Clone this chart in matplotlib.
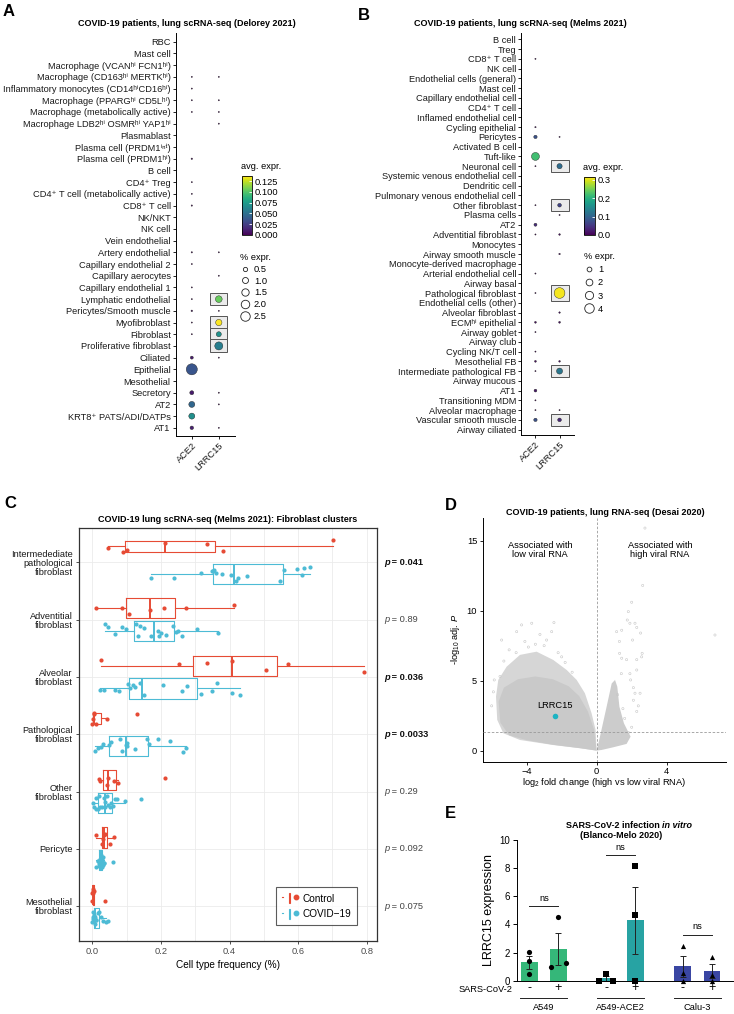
import matplotlib
matplotlib.use("Agg")
import matplotlib.pyplot as plt
import numpy as np
from matplotlib.colors import Normalize
from matplotlib.lines import Line2D
from matplotlib.patches import Rectangle
from matplotlib.legend_handler import HandlerTuple

plt.rcParams["font.family"] = ["Liberation Sans", "DejaVu Sans"]
plt.rcParams["mathtext.fontset"] = "custom"
plt.rcParams["mathtext.rm"] = "Liberation Sans"
plt.rcParams["mathtext.it"] = "Liberation Sans:italic"
plt.rcParams["mathtext.bf"] = "Liberation Sans:bold"

HI = "\u02b0\u2071"      # superscript "hi"
INT = "\u2071\u207f\u1d57"  # superscript "int"
PLUS = "\u207a"          # superscript "+"

# ---------------- panel A data (Delorey 2021) ----------------
a_cells = [
    "RBC", "Mast cell", f"Macrophage (VCAN{HI} FCN1{HI})",
    f"Macrophage (CD163{HI} MERTK{HI})",
    f"Inflammatory monocytes (CD14{HI}CD16{HI})",
    f"Macrophage (PPARG{HI} CD5L{HI})", "Macrophage (metabolically active)",
    f"Macrophage LDB2{HI} OSMR{HI} YAP1{HI}", "Plasmablast",
    f"Plasma cell (PRDM1{INT})", f"Plasma cell (PRDM1{HI})",
    "B cell", f"CD4{PLUS} Treg", f"CD4{PLUS} T cell (metabolically active)",
    f"CD8{PLUS} T cell", "NK/NKT", "NK cell", "Vein endothelial",
    "Artery endothelial", "Capillary endothelial 2", "Capillary aerocytes",
    "Capillary endothelial 1", "Lymphatic endothelial",
    "Pericytes/Smooth muscle", "Myofibroblast", "Fibroblast",
    "Proliferative fibroblast", "Ciliated", "Epithelial", "Mesothelial",
    "Secretory", "AT2", f"KRT8{PLUS} PATS/ADI/DATPs", "AT1",
]
a_ace2_pct = [0, 0, 0, 0.03, 0.03, 0.03, 0.04, 0, 0, 0, 0.06, 0, 0.04, 0.04,
              0.05, 0, 0, 0, 0.05, 0.03, 0, 0.03, 0.04, 0.07, 0.03, 0.03, 0,
              0.25, 3.4, 0, 0.45, 1.0, 1.0, 0.35]
a_ace2_expr = [0, 0, 0, 0.002, 0.002, 0.002, 0.002, 0, 0, 0, 0.004, 0, 0.002,
               0.002, 0.002, 0, 0, 0, 0.002, 0.002, 0, 0.002, 0.002, 0.005,
               0.002, 0.002, 0, 0.01, 0.036, 0, 0.01, 0.045, 0.068, 0.012]
a_lrrc15_pct = [0, 0, 0, 0.03, 0, 0.03, 0.03, 0.03, 0, 0, 0, 0, 0, 0, 0, 0, 0,
                0, 0.04, 0, 0.03, 0, 1.25, 0.03, 1.1, 0.7, 1.8, 0.03, 0, 0,
                0.03, 0.03, 0, 0.03]
a_lrrc15_expr = [0, 0, 0, 0.002, 0, 0.002, 0.002, 0.002, 0, 0, 0, 0, 0, 0, 0,
                 0, 0, 0, 0.002, 0, 0.002, 0, 0.105, 0.002, 0.136, 0.07,
                 0.058, 0.002, 0, 0, 0.002, 0.002, 0, 0.002]
a_boxed = ["Lymphatic endothelial", "Myofibroblast", "Fibroblast",
           "Proliferative fibroblast"]
a_vmax = 0.137
a_cbar_ticks = [0.0, 0.025, 0.05, 0.075, 0.1, 0.125]
a_size_breaks = [0.5, 1.0, 1.5, 2.0, 2.5]

# ---------------- panel B data (Melms 2021) ----------------
b_cells = [
    "B cell", "Treg", f"CD8{PLUS} T cell", "NK cell",
    "Endothelial cells (general)", "Mast cell", "Capillary endothelial cell",
    f"CD4{PLUS} T cell", "Inflamed endothelial cell", "Cycling epithelial",
    "Pericytes", "Activated B cell", "Tuft-like", "Neuronal cell",
    "Systemic venous endothelial cell", "Dendritic cell",
    "Pulmonary venous endothelial cell", "Other fibroblast", "Plasma cells",
    "AT2", "Adventitial fibroblast", "Monocytes", "Airway smooth muscle",
    "Monocyte-derived macrophage", "Arterial endothelial cell",
    "Airway basal", "Pathological fibroblast", "Endothelial cells (other)",
    "Alveolar fibroblast", f"ECM{HI} epithelial", "Airway goblet",
    "Airway club", "Cycling NK/T cell", "Mesothelial FB",
    "Intermediate pathological FB", "Airway mucous", "AT1",
    "Transitioning MDM", "Alveolar macrophage", "Vascular smooth muscle",
    "Airway ciliated",
]
b_ace2_pct = [0, 0, 0.05, 0, 0, 0, 0, 0, 0, 0.08, 0.5, 0, 2.8, 0.04, 0, 0, 0,
              0.04, 0, 0.4, 0.04, 0, 0, 0, 0.06, 0, 0.04, 0, 0, 0.15, 0.05, 0,
              0.04, 0.15, 0.04, 0, 0.35, 0.04, 0.04, 0.5, 0]
b_ace2_expr = [0, 0, 0.005, 0, 0, 0, 0, 0, 0, 0.01, 0.08, 0, 0.22, 0.005, 0,
               0, 0, 0.005, 0, 0.04, 0.005, 0, 0, 0, 0.005, 0, 0.005, 0, 0,
               0.01, 0.005, 0, 0.005, 0.01, 0.005, 0, 0.02, 0.005, 0.005,
               0.08, 0]
b_lrrc15_pct = [0, 0, 0, 0, 0, 0, 0, 0, 0, 0, 0.06, 0, 0, 1.2, 0, 0, 0, 0.6,
                0.04, 0, 0.12, 0, 0.1, 0, 0, 0, 5.1, 0, 0.1, 0.15, 0, 0, 0,
                0.12, 1.6, 0, 0, 0, 0.04, 0.6, 0]
b_lrrc15_expr = [0, 0, 0, 0, 0, 0, 0, 0, 0, 0, 0.01, 0, 0, 0.11, 0, 0, 0,
                 0.063, 0.005, 0, 0.01, 0, 0.01, 0, 0, 0, 0.31, 0, 0.01, 0.01,
                 0, 0, 0, 0.01, 0.125, 0, 0, 0, 0.005, 0.035, 0]
b_boxed = ["Neuronal cell", "Other fibroblast", "Pathological fibroblast",
           "Intermediate pathological FB", "Vascular smooth muscle"]
b_vmax = 0.316
b_cbar_ticks = [0.0, 0.1, 0.2, 0.3]
b_size_breaks = [1, 2, 3, 4]

genes = ["ACE2", "LRRC15"]

# ---------------- panel C data (fibroblast clusters) ----------------
c_types = ["Intermedediate\npathological\nfibroblast", "Adventitial\nfibroblast",
           "Alveolar\nfibroblast", "Pathological\nfibroblast",
           "Other\nfibroblast", "Pericyte", "Mesothelial\nfibroblast"]
c_control = [
    [0.045, 0.090, 0.101, 0.213, 0.333, 0.381, 0.702],
    [0.012, 0.087, 0.108, 0.169, 0.208, 0.274, 0.412],
    [0.025, 0.254, 0.333, 0.406, 0.507, 0.570, 0.791],
    [0.0, 0.002, 0.004, 0.006, 0.010, 0.043, 0.130],
    [0.018, 0.021, 0.043, 0.047, 0.062, 0.074, 0.211],
    [0.012, 0.028, 0.031, 0.033, 0.036, 0.052, 0.063],
    [0.0, 0.0, 0.001, 0.002, 0.003, 0.004, 0.038],
]
c_covid = [
    [0.170, 0.239, 0.318, 0.350, 0.352, 0.356, 0.360, 0.379, 0.405, 0.418,
     0.425, 0.451, 0.546, 0.560, 0.598, 0.612, 0.618, 0.634],
    [0.038, 0.045, 0.066, 0.087, 0.098, 0.128, 0.132, 0.140, 0.150, 0.170,
     0.190, 0.195, 0.200, 0.215, 0.235, 0.245, 0.250, 0.262, 0.305, 0.367],
    [0.021, 0.033, 0.066, 0.078, 0.105, 0.110, 0.118, 0.125, 0.139, 0.151,
     0.206, 0.261, 0.275, 0.316, 0.349, 0.364, 0.408, 0.429],
    [0.007, 0.015, 0.025, 0.032, 0.048, 0.055, 0.081, 0.086, 0.098, 0.100,
     0.102, 0.125, 0.159, 0.165, 0.192, 0.225, 0.265, 0.273],
    [0.003, 0.006, 0.010, 0.012, 0.015, 0.018, 0.022, 0.028, 0.033, 0.036,
     0.038, 0.042, 0.045, 0.050, 0.055, 0.060, 0.065, 0.072, 0.096, 0.143],
    [0.012, 0.015, 0.017, 0.019, 0.020, 0.021, 0.022, 0.023, 0.024, 0.025,
     0.026, 0.027, 0.028, 0.029, 0.030, 0.031, 0.033, 0.035, 0.061],
    [0.0, 0.001, 0.002, 0.003, 0.004, 0.005, 0.006, 0.007, 0.008, 0.010,
     0.012, 0.015, 0.020, 0.025, 0.030, 0.040, 0.045],
]
c_pvals = ["0.041", "0.89", "0.036", "0.0033", "0.29", "0.092", "0.075"]
c_signif = [True, False, True, True, False, False, False]

# ---------------- panel D data (volcano, Desai 2020) ----------------
d_dense_left_x = [0.0, -0.06, -0.29, -0.67, -1.14, -1.71, -2.48, -3.43, -4.38,
                  -5.14, -5.62, -5.75, -5.68, -5.33, -4.38, -2.48, -0.95]
d_dense_left_y = [0.0, 1.48, 2.67, 4.1, 5.05, 5.76, 6.48, 7.07, 6.84, 6.0,
                  5.05, 3.86, 2.2, 1.24, 0.76, 0.4, 0.17]
d_core_left_x = [0.0, -0.15, -0.5, -1.0, -1.6, -2.5, -3.5, -4.5, -5.3, -5.6,
                 -5.5, -5.0, -4.0, -2.5, -0.9]
d_core_left_y = [0.0, 1.5, 2.8, 3.9, 4.6, 5.1, 5.3, 5.1, 4.5, 3.5, 2.0, 1.1,
                 0.75, 0.42, 0.17]
d_dense_right_x = [0.0, 0.19, 0.57, 0.86, 1.05, 1.18, 1.30, 1.56, 1.94, 1.71,
                   0.95, 0.29]
d_dense_right_y = [0.0, 1.0, 3.14, 4.8, 5.05, 4.57, 3.14, 1.95, 1.0, 0.48,
                   0.24, 0.05]
d_sparse_x = [2.76, 2.63, 2.0, 1.81, 1.75, 1.90, 2.19, 1.14, 1.43, 2.29, 2.51,
              6.76, 2.05, 1.30, 2.6, 2.57, 2.29, 1.31, 1.43, 1.71, 1.41, 1.9,
              2.29, 1.94, 2.1, 2.19, 2.48, 2.1, 2.38, 2.29, 2.0, 1.81, 1.2,
              1.5, 1.6, -3.71, -4.29, -2.44, -5.43, -4.57, -3.24, -2.86, -4.1,
              -2.57, -5.85, -5.52, -5.0, -3.9, -3.0, -2.2, -1.8, -1.4, -5.9,
              -6.0, -4.6, -3.5, -2.0, -5.3]
d_sparse_y = [15.9, 11.8, 10.6, 9.93, 9.33, 9.1, 9.1, 8.5, 8.6, 8.8, 8.4,
              8.26, 7.9, 7.8, 6.95, 6.7, 6.5, 6.95, 6.6, 6.5, 5.5, 5.5, 5.76,
              5.05, 4.5, 4.1, 4.1, 3.6, 3.2, 2.8, 1.67, 1.3, 4.0, 3.0, 2.3,
              9.1, 8.98, 9.15, 7.9, 8.5, 8.3, 7.9, 7.8, 8.5, 5.05, 5.3, 7.2,
              7.4, 7.5, 7.0, 6.3, 5.6, 4.2, 3.2, 7.0, 7.6, 6.7, 6.4]
d_lrrc15_fc = -2.36
d_lrrc15_p = 2.48

# ---------------- panel E data (Blanco-Melo 2020) ----------------
e_lines = ["A549", "A549-ACE2", "Calu-3"]
e_mock = [[0.45, 1.4, 2.05], [0.0, 0.5, 0.0], [2.5, 0.55, 0.0]]
e_infected = [[4.55, 0.98, 1.25], [8.15, 4.7, 0.0], [1.7, 0.4, 0.0]]
e_colors = ["#35b779", "#27a3a3", "#3a46a3"]
e_markers = ["o", "s", "^"]
e_mock_dx = [[0, 0, 0], [-0.25, 0, 0.25], [0, 0, 0]]
e_inf_dx = [[0, -0.25, 0.25], [0, 0, 0], [0, 0, 0]]

RED = "#e64b35"
BLUE = "#4dbbd5"
TICK_FS = 6.7
TITLE_FS = 6.5

W, H = 734, 1014
fig = plt.figure(figsize=(W / 100, H / 100), dpi=100)


def add_ax(x0, y0, x1, y1):
    return fig.add_axes([x0 / W, 1 - y1 / H, (x1 - x0) / W, (y1 - y0) / H])


def ftext(x, y, s, **kw):
    return fig.text(x / W, 1 - y / H, s, **kw)


def dot_panel(ax, cells, ace2_pct, ace2_expr, lr_pct, lr_expr, boxed, vmax,
              k, row_px, col_px, box_w_px):
    n = len(cells)
    rows = np.arange(n)
    for r, cell in enumerate(cells):
        if cell in boxed:
            d = k * np.sqrt(lr_pct[r])
            h = max(12.3, d + 5) / row_px
            w = box_w_px / col_px
            ax.add_patch(Rectangle((1 - w / 2, r - h / 2), w, h, fc="#ebebeb",
                                   ec="#555555", lw=0.7, zorder=2))
    for col, pct, expr in [(0, ace2_pct, ace2_expr), (1, lr_pct, lr_expr)]:
        pct = np.asarray(pct, float)
        expr = np.asarray(expr, float)
        m = pct > 0
        d = np.maximum(k * np.sqrt(pct[m]), 1.2) * 0.72
        ax.scatter(np.full(m.sum(), col), rows[m], s=d ** 2, c=expr[m],
                   cmap="viridis", vmin=0, vmax=vmax, edgecolors="#222222",
                   linewidths=0.3, zorder=3)
    ax.set_yticks(rows)
    ax.set_yticklabels(cells, fontsize=TICK_FS, color="#1a1a1a")
    ax.set_xticks([0, 1])
    ax.set_xticklabels(genes, rotation=45, ha="right", va="top",
                       rotation_mode="anchor", fontsize=TICK_FS,
                       color="#1a1a1a")
    ax.set_xlim(-0.6, 1.6)
    for s in ["top", "right"]:
        ax.spines[s].set_visible(False)
    for s in ["left", "bottom"]:
        ax.spines[s].set_linewidth(0.7)
    ax.tick_params(length=2, width=0.6, pad=1.5)


def cbar_and_sizes(x0, y0, x1, y1, vmax, ticks, fmt, breaks, k, leg_x, leg_y,
                   spacing):
    cax = add_ax(x0, y0, x1, y1)
    sm = plt.cm.ScalarMappable(norm=Normalize(0, vmax), cmap="viridis")
    cb = fig.colorbar(sm, cax=cax, ticks=ticks)
    cb.ax.set_yticklabels([fmt.format(t) for t in ticks])
    cb.ax.tick_params(labelsize=TICK_FS, length=2, width=0.6, color="white",
                      direction="in", pad=2)
    cb.outline.set_linewidth(0.6)
    ftext(x0 - 1, y0 - 5, "avg. expr.", fontsize=TICK_FS, ha="left",
          va="bottom")
    handles = [Line2D([], [], marker="o", ls="", mfc="white", mec="#222222",
                      mew=0.6, ms=k * np.sqrt(b) * 0.72) for b in breaks]
    fig.legend(handles, [f"{b:g}" if isinstance(b, int) else f"{b:.1f}"
                         for b in breaks],
               title="% expr.", loc="upper left",
               bbox_to_anchor=(leg_x / W, 1 - leg_y / H), frameon=False,
               fontsize=TICK_FS, title_fontsize=TICK_FS, handlelength=1.0,
               handletextpad=0.5, labelspacing=spacing, borderpad=0,
               borderaxespad=0, alignment="left")


# ---------------- panel A ----------------
axa = add_ax(175.6, 33, 235, 436)
dot_panel(axa, a_cells, a_ace2_pct, a_ace2_expr, a_lrrc15_pct, a_lrrc15_expr,
          a_boxed, a_vmax, 6.0, 11.7, 27, 17)
axa.set_ylim(len(a_cells) - 1 + 0.7, -0.75)
ftext(187, 23, "COVID-19 patients, lung scRNA-seq (Delorey 2021)",
      fontsize=TITLE_FS, fontweight="bold", ha="center", va="center")
ftext(3, 12, "A", fontsize=12, fontweight="bold", ha="left", va="center")
cbar_and_sizes(242, 176, 252, 235, a_vmax, a_cbar_ticks, "{:.3f}",
               a_size_breaks, 6.0, 240, 253, 0.3)

# ---------------- panel B ----------------
axb = add_ax(521, 33, 574, 435)
dot_panel(axb, b_cells, b_ace2_pct, b_ace2_expr, b_lrrc15_pct, b_lrrc15_expr,
          b_boxed, b_vmax, 4.75, 9.77, 24, 18)
axb.set_ylim(len(b_cells) - 1 + 0.55, -0.65)
ftext(520, 23, "COVID-19 patients, lung scRNA-seq (Melms 2021)",
      fontsize=TITLE_FS, fontweight="bold", ha="center", va="center")
ftext(358, 16, "B", fontsize=12, fontweight="bold", ha="left", va="center")
cbar_and_sizes(584, 177, 595, 235, b_vmax, b_cbar_ticks, "{:.1f}",
               b_size_breaks, 4.75, 584, 252, 0.45)

# ---------------- panel C ----------------
axc = add_ax(79, 528, 376.7, 940.7)
rng = np.random.default_rng(7)  # vertical jitter only
n = len(c_types)
for i in range(n):
    narrow = i in (0, 3)
    y_ctrl = i - (0.28 if narrow else 0.2)
    w_ctrl = 0.19 if narrow else 0.35
    for vals, yy, ww, col in [(c_control[i], y_ctrl, w_ctrl, RED),
                              (c_covid[i], i + 0.2, 0.35, BLUE)]:
        axc.boxplot([vals], positions=[yy], widths=[ww],
                    orientation="horizontal", showfliers=False,
                    showcaps=False, patch_artist=False,
                    boxprops=dict(color=col, lw=0.8),
                    whiskerprops=dict(color=col, lw=0.8),
                    medianprops=dict(color=col, lw=1.4))
        jit = rng.uniform(-0.12, 0.12, len(vals))
        axc.scatter(vals, yy + jit, s=9, color=col, lw=0, zorder=3)
axc.set_ylim(n - 1 + 0.6, -0.6)
axc.set_xlim(-0.039, 0.829)
axc.set_yticks(range(n))
axc.set_yticklabels(c_types, fontsize=TICK_FS, color="#1a1a1a",
                    linespacing=1.0)
axc.set_xticks([0, 0.2, 0.4, 0.6, 0.8])
axc.set_xticklabels(["0.0", "0.2", "0.4", "0.6", "0.8"], fontsize=TICK_FS,
                    color="#4d4d4d")
axc.set_xticks([0.1, 0.3, 0.5, 0.7], minor=True)
axc.grid(True, which="both", axis="x", color="#ebebeb", lw=0.6)
axc.grid(True, which="major", axis="y", color="#ebebeb", lw=0.6)
axc.set_axisbelow(True)
axc.tick_params(length=2.5, width=0.6, pad=2, color="#333333")
axc.tick_params(which="minor", length=0)
for s in axc.spines.values():
    s.set_linewidth(0.9)
    s.set_color("#333333")
axc.set_xlabel("Cell type frequency (%)", fontsize=7.2, labelpad=3)
ftext(227.5, 519, "COVID-19 lung scRNA-seq (Melms 2021): Fibroblast clusters",
      fontsize=TITLE_FS, fontweight="bold", ha="center", va="center")
ftext(4, 504, "C", fontsize=12, fontweight="bold", ha="left", va="center")

ytick_px = [528 + (k + 0.6) * 412.7 / 7.2 for k in range(n)]
for k in range(n):
    wt = "bold" if c_signif[k] else "normal"
    colr = "#111111" if c_signif[k] else "#444444"
    ftext(384, ytick_px[k], "p", fontsize=6.7, style="italic", fontweight=wt,
          color=colr, ha="left", va="center")
    ftext(389, ytick_px[k], f" = {c_pvals[k]}", fontsize=6.7, fontweight=wt,
          color=colr, ha="left", va="center")


def box_key(col):
    return (Line2D([], [], color=col, lw=0.8),
            Rectangle((0, 0), 1, 1, fc="white", ec=col, lw=0.8),
            Line2D([], [], color=col, lw=1.2, marker="o", ms=3.2, ls=""))


axc.legend([box_key(RED), box_key(BLUE)], ["Control", "COVID\u221219"],
           handler_map={tuple: HandlerTuple(ndivide=None)},
           loc="lower right", bbox_to_anchor=(0.934, 0.038), borderaxespad=0,
           fontsize=7.2, frameon=True, fancybox=False, edgecolor="#333333",
           handlelength=1.4, handleheight=1.2, labelspacing=0.5,
           borderpad=0.6, handletextpad=0.6).get_frame().set_linewidth(0.8)

# ---------------- panel D ----------------
axd = add_ax(482.7, 517.7, 726, 761.7)
axd.fill(d_dense_left_x, d_dense_left_y, color="#d6d6d6", lw=0, zorder=1)
axd.fill(d_core_left_x, d_core_left_y, color="#c9c9c9", lw=0, zorder=1)
axd.fill(d_dense_right_x, d_dense_right_y, color="#cccccc", lw=0, zorder=1)
axd.scatter(d_sparse_x, d_sparse_y, s=2.5, facecolors="none",
            edgecolors="#c6c6c6", lw=0.4, zorder=2)
axd.axvline(0, color="#9a9a9a", lw=0.6, ls=(0, (3, 2)), zorder=3)
axd.axhline(-np.log10(0.05), color="#9a9a9a", lw=0.6, ls=(0, (3, 2)),
            zorder=3)
axd.scatter([d_lrrc15_fc], [d_lrrc15_p], s=16, color="#1cb3c2", lw=0,
            zorder=4)
axd.text(d_lrrc15_fc, d_lrrc15_p + 0.45, "LRRC15", fontsize=6.7,
         ha="center", va="bottom", zorder=5)
axd.text(-3.24, 14.3, "Associated with\nlow viral RNA", fontsize=6.7,
         ha="center", va="center", linespacing=1.0)
axd.text(3.62, 14.3, "Associated with\nhigh viral RNA", fontsize=6.7,
         ha="center", va="center", linespacing=1.0)
axd.set_xlim(-6.51, 7.39)
axd.set_ylim(-0.79, 16.64)
axd.set_xticks([-4, 0, 4])
axd.set_yticks([0, 5, 10, 15])
axd.tick_params(labelsize=6.7, length=2.5, width=0.6, pad=1.5)
for s in ["top", "right"]:
    axd.spines[s].set_visible(False)
for s in ["left", "bottom"]:
    axd.spines[s].set_linewidth(0.7)
axd.set_xlabel(r"log$_2$ fold change (high vs low viral RNA)", fontsize=6.7,
               labelpad=0)
axd.set_ylabel(r"-log$_{10}$ adj. $P$", fontsize=6.7, labelpad=3)
ftext(605, 512.7, "COVID-19 patients, lung RNA-seq (Desai 2020)",
      fontsize=TITLE_FS, fontweight="bold", ha="center", va="center")
ftext(445, 505, "D", fontsize=12, fontweight="bold", ha="left", va="center")

# ---------------- panel E ----------------
axe = add_ax(516.7, 840, 733, 980.7)
tr = axe.get_xaxis_transform()
for g, line in enumerate(e_lines):
    x0 = g * 2.63
    for j, (vals, dx, sign) in enumerate([(e_mock[g], e_mock_dx[g], "-"),
                                          (e_infected[g], e_inf_dx[g], "+")]):
        xx = x0 + j
        v = np.asarray(vals, float)
        mean = v.mean()
        sem = v.std(ddof=1) / np.sqrt(len(v))
        axe.bar(xx, mean, width=0.57, color=e_colors[g], lw=0, zorder=1)
        axe.errorbar(xx, mean, yerr=sem, color="#222222", lw=0.7, capsize=2.5,
                     capthick=0.7, zorder=2)
        axe.scatter(xx + np.asarray(dx), v, marker=e_markers[g], s=14,
                    color="black", lw=0, zorder=3, clip_on=False)
        axe.text(xx, -0.05, sign, transform=tr, fontsize=9, ha="center",
                 va="center")
    top = max(max(e_mock[g]), max(e_infected[g])) + 0.75
    axe.plot([x0, x0 + 1], [top, top], color="#222222", lw=0.7)
    axe.text(x0 + 0.5, top + 0.25, "ns", fontsize=6.7, ha="center",
             va="bottom")
    axe.plot([x0 - 0.3, x0 + 1.3], [-0.125, -0.125], transform=tr,
             color="#222222", lw=0.7, clip_on=False)
    axe.text(x0 + 0.5, -0.19, line, transform=tr, fontsize=6.7, ha="center",
             va="center")
axe.text(-0.56, -0.066, "SARS-CoV-2", transform=tr, fontsize=6.7, ha="right",
         va="center")
axe.set_xlim(-0.43, 6.98)
axe.set_ylim(0, 10)
axe.set_yticks([0, 2, 4, 6, 8, 10])
axe.set_xticks([])
axe.tick_params(axis="y", labelsize=7, length=3, width=0.7, pad=2)
for s in ["top", "right"]:
    axe.spines[s].set_visible(False)
for s in ["left", "bottom"]:
    axe.spines[s].set_linewidth(0.7)
axe.set_ylabel("LRRC15 expression", fontsize=9, labelpad=3)
ftext(662, 825, "SARS-CoV-2 infection ", fontsize=TITLE_FS, fontweight="bold",
      ha="right", va="center")
ftext(662, 825, "in vitro", fontsize=TITLE_FS, fontweight="bold",
      style="italic", ha="left", va="center")
ftext(621, 836, "(Blanco-Melo 2020)", fontsize=TITLE_FS, fontweight="bold",
      ha="center", va="center")
ftext(445, 814, "E", fontsize=12, fontweight="bold", ha="left", va="center")

fig.savefig("out.png", dpi=100)
